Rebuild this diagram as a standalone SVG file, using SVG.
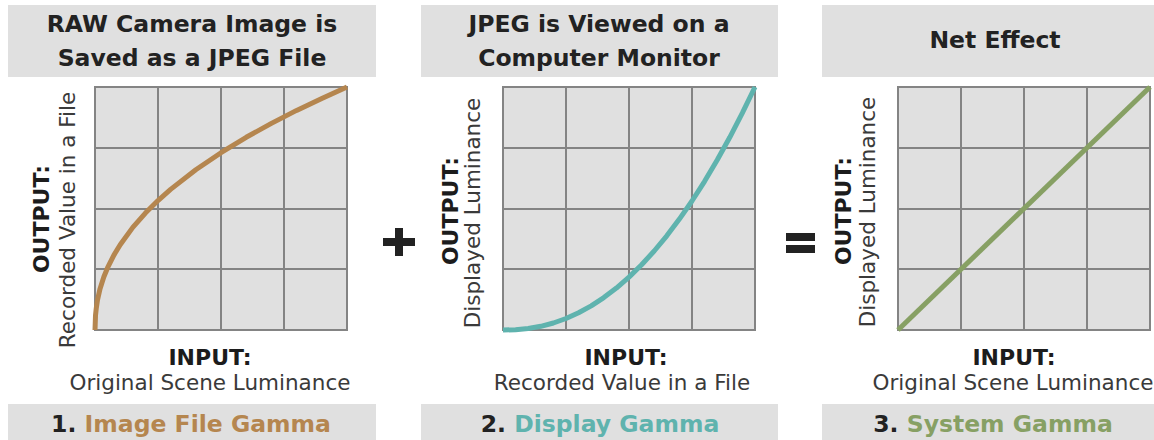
<svg xmlns="http://www.w3.org/2000/svg" width="1154" height="440" viewBox="0 0 1154 440">
  <style>
    .box { fill: #e0e0e0; }
    .grid { fill: #e0e0e0; stroke: #848484; stroke-width: 2; }
    .gl { stroke: #848484; stroke-width: 2; fill: none; }
    .hd { font-family: "DejaVu Sans", Verdana, sans-serif; font-weight: bold; font-size: 23.5px; fill: #222; text-anchor: middle; }
    .ax { font-family: "DejaVu Sans", Verdana, sans-serif; font-weight: bold; font-size: 22px; fill: #1c1c1c; text-anchor: middle; }
    .sub { font-family: "DejaVu Sans", Verdana, sans-serif; font-size: 21.5px; fill: #3a3a3a; text-anchor: middle; }
    .ft { font-family: "DejaVu Sans", Verdana, sans-serif; font-weight: bold; font-size: 23.5px; fill: #222; text-anchor: middle; }
    .curve { fill: none; stroke-width: 5; stroke-linejoin: round; }
    .op { fill: #222; }
  </style>
  <defs>
    <!-- 4x4 chart grid, 252 x 243 -->
    <g id="chart">
      <rect class="grid" x="0" y="0" width="252" height="243"/>
      <path class="gl" d="M63 0V243M126 0V243M189 0V243M0 61H252M0 122H252M0 182H252"/>
    </g>
  </defs>

  <rect width="1154" height="440" fill="#ffffff"/>

  <!-- Panel 1: encoding gamma -->
  <g id="panel-image-file-gamma">
    <rect class="box" x="8" y="5" width="368" height="72"/>
    <text class="hd" x="192" y="32">RAW Camera Image is</text>
    <text class="hd" x="192" y="66">Saved as a JPEG File</text>
    <use href="#chart" x="95" y="87"/>
    <polyline class="curve" stroke="#b5864f" points="95,330 95.5,315.6 96.3,308.1 97.5,300 100,288.9 103.8,277 107.6,267.7 113.9,255.1 120.2,244.7 132.8,227.4 145.4,213.1 158,200.6 170.6,189.4 195.8,169.8 221,152.7 246.2,137.3 271.4,123.4 296.6,110.4 321.8,98.4 347,87"/>
    <text class="ax" transform="translate(49 219) rotate(-90)">OUTPUT:</text>
    <text class="sub" transform="translate(75 220) rotate(-90)">Recorded Value in a File</text>
    <text class="ax" x="210" y="365">INPUT:</text>
    <text class="sub" x="210" y="390">Original Scene Luminance</text>
    <rect class="box" x="8" y="404" width="368" height="36"/>
    <text class="ft" x="191" y="432">1. <tspan fill="#b5864f">Image File Gamma</tspan></text>
  </g>

  <!-- Panel 2: display gamma -->
  <g id="panel-display-gamma">
    <rect class="box" x="421" y="5" width="357" height="72"/>
    <text class="hd" x="599" y="32">JPEG is Viewed on a</text>
    <text class="hd" x="599" y="66">Computer Monitor</text>
    <use href="#chart" x="503" y="87"/>
    <polyline class="curve" stroke="#5fb3ae" points="503,330 515.6,329.7 528.2,328.5 540.8,326.3 553.4,323 566,318.5 578.6,312.8 591.2,305.9 603.8,297.6 616.4,288.1 629,277.1 641.6,264.8 654.2,251 666.8,235.8 679.4,219.1 692,201 704.6,181.3 717.2,160 729.8,137.3 742.4,112.9 755,87"/>
    <text class="ax" transform="translate(458 211) rotate(-90)">OUTPUT:</text>
    <text class="sub" transform="translate(480 213) rotate(-90)">Displayed Luminance</text>
    <text class="ax" x="626" y="365">INPUT:</text>
    <text class="sub" x="622" y="390">Recorded Value in a File</text>
    <rect class="box" x="421" y="404" width="357" height="36"/>
    <text class="ft" x="600" y="432">2. <tspan fill="#5fb3ae">Display Gamma</tspan></text>
  </g>

  <!-- Panel 3: system gamma -->
  <g id="panel-system-gamma">
    <rect class="box" x="822" y="5" width="340" height="72"/>
    <text class="hd" x="995" y="48">Net Effect</text>
    <use href="#chart" x="898" y="87"/>
    <line class="curve" stroke="#87a064" x1="898" y1="330" x2="1150" y2="87"/>
    <text class="ax" transform="translate(851 211) rotate(-90)">OUTPUT:</text>
    <text class="sub" transform="translate(875 212) rotate(-90)">Displayed Luminance</text>
    <text class="ax" x="1014" y="365">INPUT:</text>
    <text class="sub" x="1013" y="390">Original Scene Luminance</text>
    <rect class="box" x="822" y="404" width="340" height="36"/>
    <text class="ft" x="993" y="432">3. <tspan fill="#87a064">System Gamma</tspan></text>
  </g>

  <!-- Operators between panels -->
  <g id="operators">
    <g id="op-plus" class="op">
      <rect x="383" y="238" width="32" height="8"/>
      <rect x="395" y="228" width="8" height="28"/>
    </g>
    <g id="op-equals" class="op">
      <rect x="786" y="233" width="29" height="8"/>
      <rect x="786" y="245" width="29" height="8"/>
    </g>
  </g>
</svg>
